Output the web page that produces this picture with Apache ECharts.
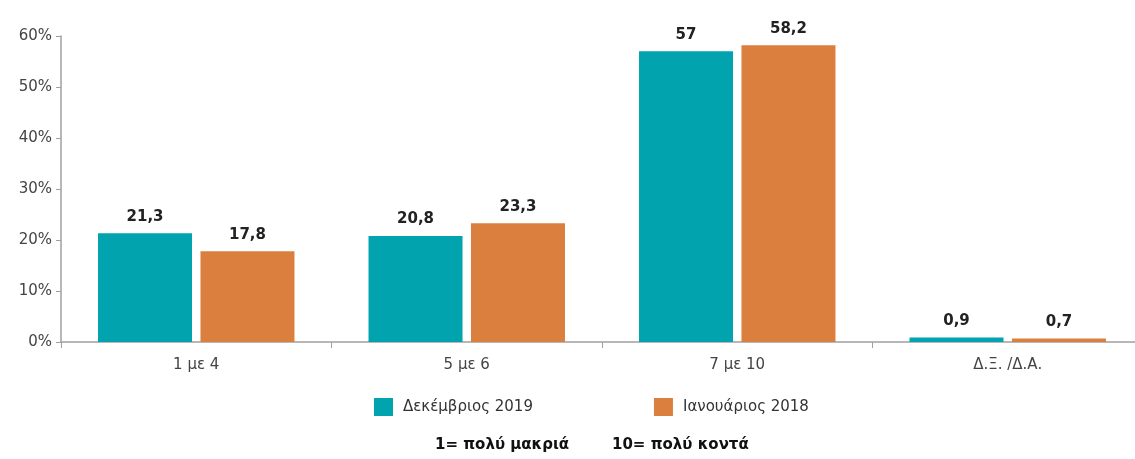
<!DOCTYPE html>
<html>
<head>
<meta charset="utf-8">
<script src="https://cdn.jsdelivr.net/npm/echarts@6/dist/echarts.min.js"></script>
<style>html,body{margin:0;padding:0;background:#fff;}#c{width:1135px;height:459px;}</style>
</head>
<body>
<div id="c"></div>
<script>
var categories = ['1 με 4', '5 με 6', '7 με 10', 'Δ.Ξ. /Δ.Α.'];
var seriesNames = ['Δεκέμβριος 2019', 'Ιανουάριος 2018'];
var dec2019 = [21.3, 20.8, 57, 0.9];
var jan2018 = [17.8, 23.3, 58.2, 0.7];
var yTicks = [0, 10, 20, 30, 40, 50, 60];
var footnote = ['1= πολύ μακριά', '10= πολύ κοντά'];

var font = 'DejaVu Sans';
var chart = echarts.init(document.getElementById('c'));
function lbl(p){ return String(p.value).replace('.', ','); }
chart.setOption({
  animation: false,
  textStyle: {fontFamily: font},
  grid: {left: 61, right: -8, top: 36, bottom: 117, outerBoundsMode: 'none', containLabel: false},
  legend: {
    data: seriesNames,
    top: 398, left: 374, padding: 0,
    itemWidth: 19, itemHeight: 18, itemGap: 121,
    icon: 'rect',
    textStyle: {fontFamily: font, fontSize: 15, color: '#333', padding: [0,0,0,5]}
  },
  graphic: [
    {type: 'text', left: 435, top: 438, style: {text: footnote[0], font: 'bold 15px "DejaVu Sans"', fill: '#111'}},
    {type: 'text', left: 612, top: 438, style: {text: footnote[1], font: 'bold 15px "DejaVu Sans"', fill: '#111'}}
  ],
  xAxis: {
    type: 'category', data: categories,
    axisLine: {lineStyle: {color: '#a0a0a0', width: 1.5}},
    axisTick: {show: true, length: 6, lineStyle: {color: '#a0a0a0'}},
    axisLabel: {fontSize: 15, color: '#444', margin: 16, fontFamily: font}
  },
  yAxis: {
    type: 'value', min: yTicks[0], max: yTicks[yTicks.length-1], interval: 10,
    splitLine: {show: false},
    axisLine: {show: true, lineStyle: {color: '#a0a0a0', width: 1.5}},
    axisTick: {show: true, length: 5, lineStyle: {color: '#a0a0a0'}},
    axisLabel: {formatter: '{value}%', fontSize: 15, color: '#444', margin: 9, fontFamily: font}
  },
  series: [
    {name: seriesNames[0], type: 'bar', data: dec2019, barWidth: 94, barGap: '9%',
     itemStyle: {color: '#00A3AE'},
     label: {show: true, position: 'top', distance: 9, formatter: lbl, fontSize: 15, fontWeight: 'bold', color: '#222', fontFamily: font}},
    {name: seriesNames[1], type: 'bar', data: jan2018, barWidth: 94,
     itemStyle: {color: '#DB7F3E'},
     label: {show: true, position: 'top', distance: 9, formatter: lbl, fontSize: 15, fontWeight: 'bold', color: '#222', fontFamily: font}}
  ]
});
</script>
</body>
</html>
